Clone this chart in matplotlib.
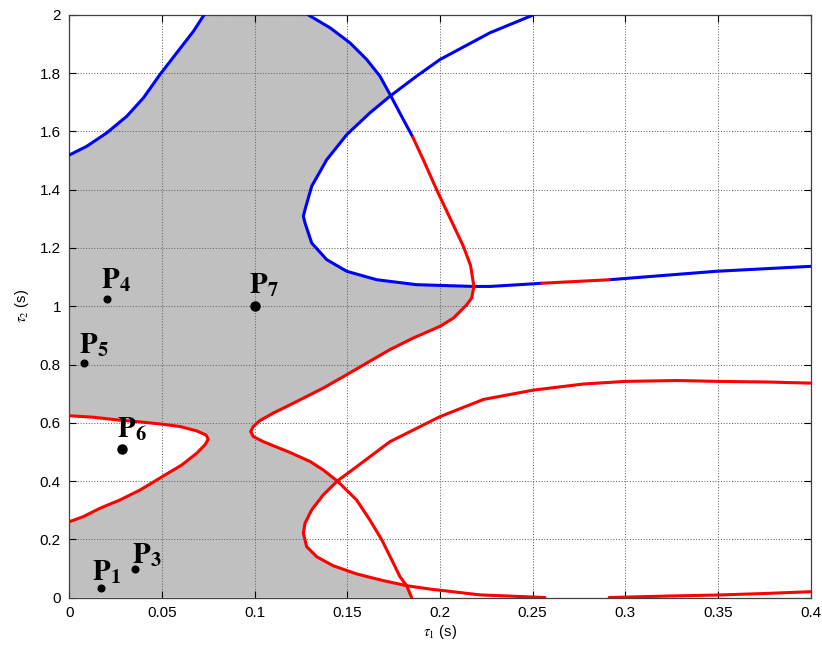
import numpy as np
import matplotlib
matplotlib.use("Agg")
import matplotlib.pyplot as plt

plt.rcParams["font.family"] = ["Liberation Sans", "DejaVu Sans"]
plt.rcParams["mathtext.fontset"] = "stix"

# ── curve segments (tau1, tau2) ──────────────────────────────────────────────
# blue arc, top left
A_t1 = [0.0, 0.0094, 0.0202, 0.031, 0.040, 0.049, 0.058, 0.067, 0.0727]
A_t2 = [1.519, 1.549, 1.595, 1.652, 1.715, 1.796, 1.870, 1.944, 2.0]

# curve B: blue from the top, then red down to the x axis
B_top_t1 = [0.129, 0.1407, 0.1515, 0.1605, 0.1676, 0.1734]
B_top_t2 = [2.0, 1.956, 1.904, 1.847, 1.790, 1.723]
B_mid_t1 = [0.1734, 0.1793, 0.1853]
B_mid_t2 = [1.723, 1.652, 1.581]
B_red1_t1 = [0.1853, 0.191, 0.1982, 0.2126, 0.2165, 0.2183]
B_red1_t2 = [1.581, 1.503, 1.400, 1.206, 1.140, 1.068]
B_red2_t1 = [0.2183, 0.2171, 0.2144, 0.2072, 0.200, 0.1856, 0.173, 0.1605,
             0.1497, 0.137, 0.128, 0.1191, 0.110, 0.1029, 0.0993, 0.0979,
             0.0993, 0.1047, 0.1191, 0.1299, 0.137, 0.1446]
B_red2_t2 = [1.068, 1.028, 1.005, 0.959, 0.931, 0.891, 0.851, 0.805,
             0.765, 0.719, 0.690, 0.6615, 0.633, 0.6076, 0.587, 0.570,
             0.5526, 0.535, 0.498, 0.467, 0.438, 0.400]
B_red3_t1 = [0.1446, 0.155, 0.1622, 0.1686, 0.174, 0.1784, 0.182]
B_red3_t2 = [0.400, 0.335, 0.266, 0.198, 0.129, 0.0716, 0.0406]
B_red4_t1 = [0.182, 0.1847]
B_red4_t2 = [0.0406, 0.0]

# curve C: blue loop from the top right, red patch on the right branch
C_up_t1 = [0.2503, 0.227, 0.200, 0.1874, 0.1734]
C_up_t2 = [2.0, 1.939, 1.847, 1.790, 1.723]
C_in_t1 = [0.1734, 0.1622, 0.1497, 0.1389, 0.1308, 0.1272, 0.1263, 0.1272,
           0.1308, 0.1389, 0.1497, 0.1659, 0.1874, 0.2183]
C_in_t2 = [1.723, 1.664, 1.589, 1.503, 1.412, 1.332, 1.309, 1.286,
           1.217, 1.160, 1.120, 1.091, 1.074, 1.068]
C_r1_t1 = [0.2183, 0.227, 0.2503, 0.2549]
C_r1_t2 = [1.068, 1.068, 1.077, 1.079]
C_r2_t1 = [0.2549, 0.2913]
C_r2_t2 = [1.079, 1.091]
C_r3_t1 = [0.2913, 0.349, 0.4]
C_r3_t2 = [1.091, 1.120, 1.137]

# curve D: red lobe on the left
D_t1 = [0.0, 0.013, 0.0256, 0.0382, 0.0502, 0.0598, 0.0688, 0.0738, 0.075,
        0.0732, 0.0688, 0.0607, 0.0502, 0.0382, 0.0274, 0.0166, 0.0076, 0.0]
D_t2 = [0.624, 0.619, 0.610, 0.603, 0.595, 0.587, 0.572, 0.558, 0.5436,
        0.524, 0.4955, 0.455, 0.415, 0.369, 0.335, 0.3065, 0.2777, 0.260]

# curve E: red loop bottom right
E_up_t1 = [0.4, 0.3762, 0.35, 0.3277, 0.30, 0.2773, 0.2503, 0.2234,
           0.200, 0.173, 0.155, 0.1446]
E_up_t2 = [0.736, 0.740, 0.742, 0.745, 0.742, 0.733, 0.712, 0.680,
           0.621, 0.535, 0.449, 0.400]
E_in_t1 = [0.1446, 0.137, 0.1308, 0.1272, 0.1263, 0.1281, 0.1335, 0.1424,
           0.155, 0.1694, 0.182]
E_in_t2 = [0.400, 0.352, 0.301, 0.255, 0.2206, 0.1746, 0.140, 0.109,
           0.081, 0.058, 0.0406]
E_lo_t1 = [0.182, 0.1946, 0.2216, 0.2566]
E_lo_t2 = [0.0406, 0.029, 0.009, 0.0]
E_lo2_t1 = [0.2913, 0.3223, 0.35, 0.376, 0.4]
E_lo2_t2 = [0.0, 0.005, 0.0086, 0.014, 0.02]

# operating points
pt_names = ["1", "3", "4", "5", "6", "7"]
pt_t1 = [0.017, 0.0355, 0.0206, 0.008, 0.0285, 0.1]
pt_t2 = [0.034, 0.097, 1.025, 0.805, 0.51, 1.0]
pt_big = [False, False, False, False, True, True]
pt_off = [(-6.5, 5.5), (-2.4, 4.3), (-4.5, 8.1), (-3.6, 7.2), (-3.4, 8.9), (-4.1, 9.6)]

x_ticks = [0, 0.05, 0.1, 0.15, 0.2, 0.25, 0.3, 0.35, 0.4]
x_labels = ["0", "0.05", "0.1", "0.15", "0.2", "0.25", "0.3", "0.35", "0.4"]
y_ticks = [0, 0.2, 0.4, 0.6, 0.8, 1.0, 1.2, 1.4, 1.6, 1.8, 2.0]
y_labels = ["0", "0.2", "0.4", "0.6", "0.8", "1", "1.2", "1.4", "1.6", "1.8", "2"]

BLUE = "#0000ff"
RED = "#ff0000"
LW = 2.2

fig = plt.figure(figsize=(8.22, 6.48), dpi=100)
ax = fig.add_axes([0.0842, 0.0779, 0.9021, 0.8990])

# ── stable region (gray) ─────────────────────────────────────────────────────
poly_x = ([0.0] + D_t1[::-1] + A_t1 + B_top_t1 + C_in_t1 + B_red2_t1
          + E_in_t1 + B_red4_t1)
poly_y = ([0.0] + D_t2[::-1] + A_t2 + B_top_t2 + C_in_t2 + B_red2_t2
          + E_in_t2 + B_red4_t2)
ax.fill(poly_x, poly_y, color="#c0c0c0", lw=0, zorder=1)

# ── curves ───────────────────────────────────────────────────────────────────
blue_segs = [(A_t1, A_t2), (B_top_t1, B_top_t2), (B_mid_t1, B_mid_t2),
             (C_up_t1, C_up_t2), (C_in_t1, C_in_t2), (C_r1_t1, C_r1_t2),
             (C_r3_t1, C_r3_t2)]
red_segs = [(B_red1_t1, B_red1_t2), (B_red2_t1, B_red2_t2), (B_red3_t1, B_red3_t2),
            (B_red4_t1, B_red4_t2), (C_r2_t1, C_r2_t2), (D_t1, D_t2),
            (E_up_t1, E_up_t2), (E_in_t1, E_in_t2), (E_lo_t1, E_lo_t2),
            (E_lo2_t1, E_lo2_t2)]
for xs, ys in blue_segs:
    ax.plot(xs, ys, color=BLUE, lw=LW, solid_capstyle="round",
            solid_joinstyle="round", zorder=3)
for xs, ys in red_segs:
    ax.plot(xs, ys, color=RED, lw=LW, solid_capstyle="round",
            solid_joinstyle="round", zorder=3)

# ── points + labels ──────────────────────────────────────────────────────────
for name, x, y, big, off in zip(pt_names, pt_t1, pt_t2, pt_big, pt_off):
    ax.plot(x, y, "o", color="black", ms=6.5 if big else 4.8, zorder=5)
    ax.annotate(r"$\mathbf{P}_{\mathbf{%s}}$" % name, xy=(x, y), xytext=off,
                textcoords="offset points", ha="left", va="baseline",
                fontsize=21, zorder=6)

ax.set_xlim(0, 0.4)
ax.set_ylim(0, 2)
ax.set_xticks(x_ticks)
ax.set_xticklabels(x_labels)
ax.set_yticks(y_ticks)
ax.set_yticklabels(y_labels)
ax.tick_params(direction="in", length=5, width=0.8, labelsize=11,
               top=True, right=True, pad=6)
ax.set_axisbelow("line")
ax.grid(True, ls=":", color="0.4", lw=0.75)
for sp in ax.spines.values():
    sp.set_color("0.25")
    sp.set_linewidth(0.9)

ax.set_xlabel(r"$\tau_1$ (s)", fontsize=10.5, labelpad=2)
ax.set_ylabel(r"$\tau_2$ (s)", fontsize=10.5, labelpad=6)

fig.savefig("out.png", dpi=100, facecolor="white")
